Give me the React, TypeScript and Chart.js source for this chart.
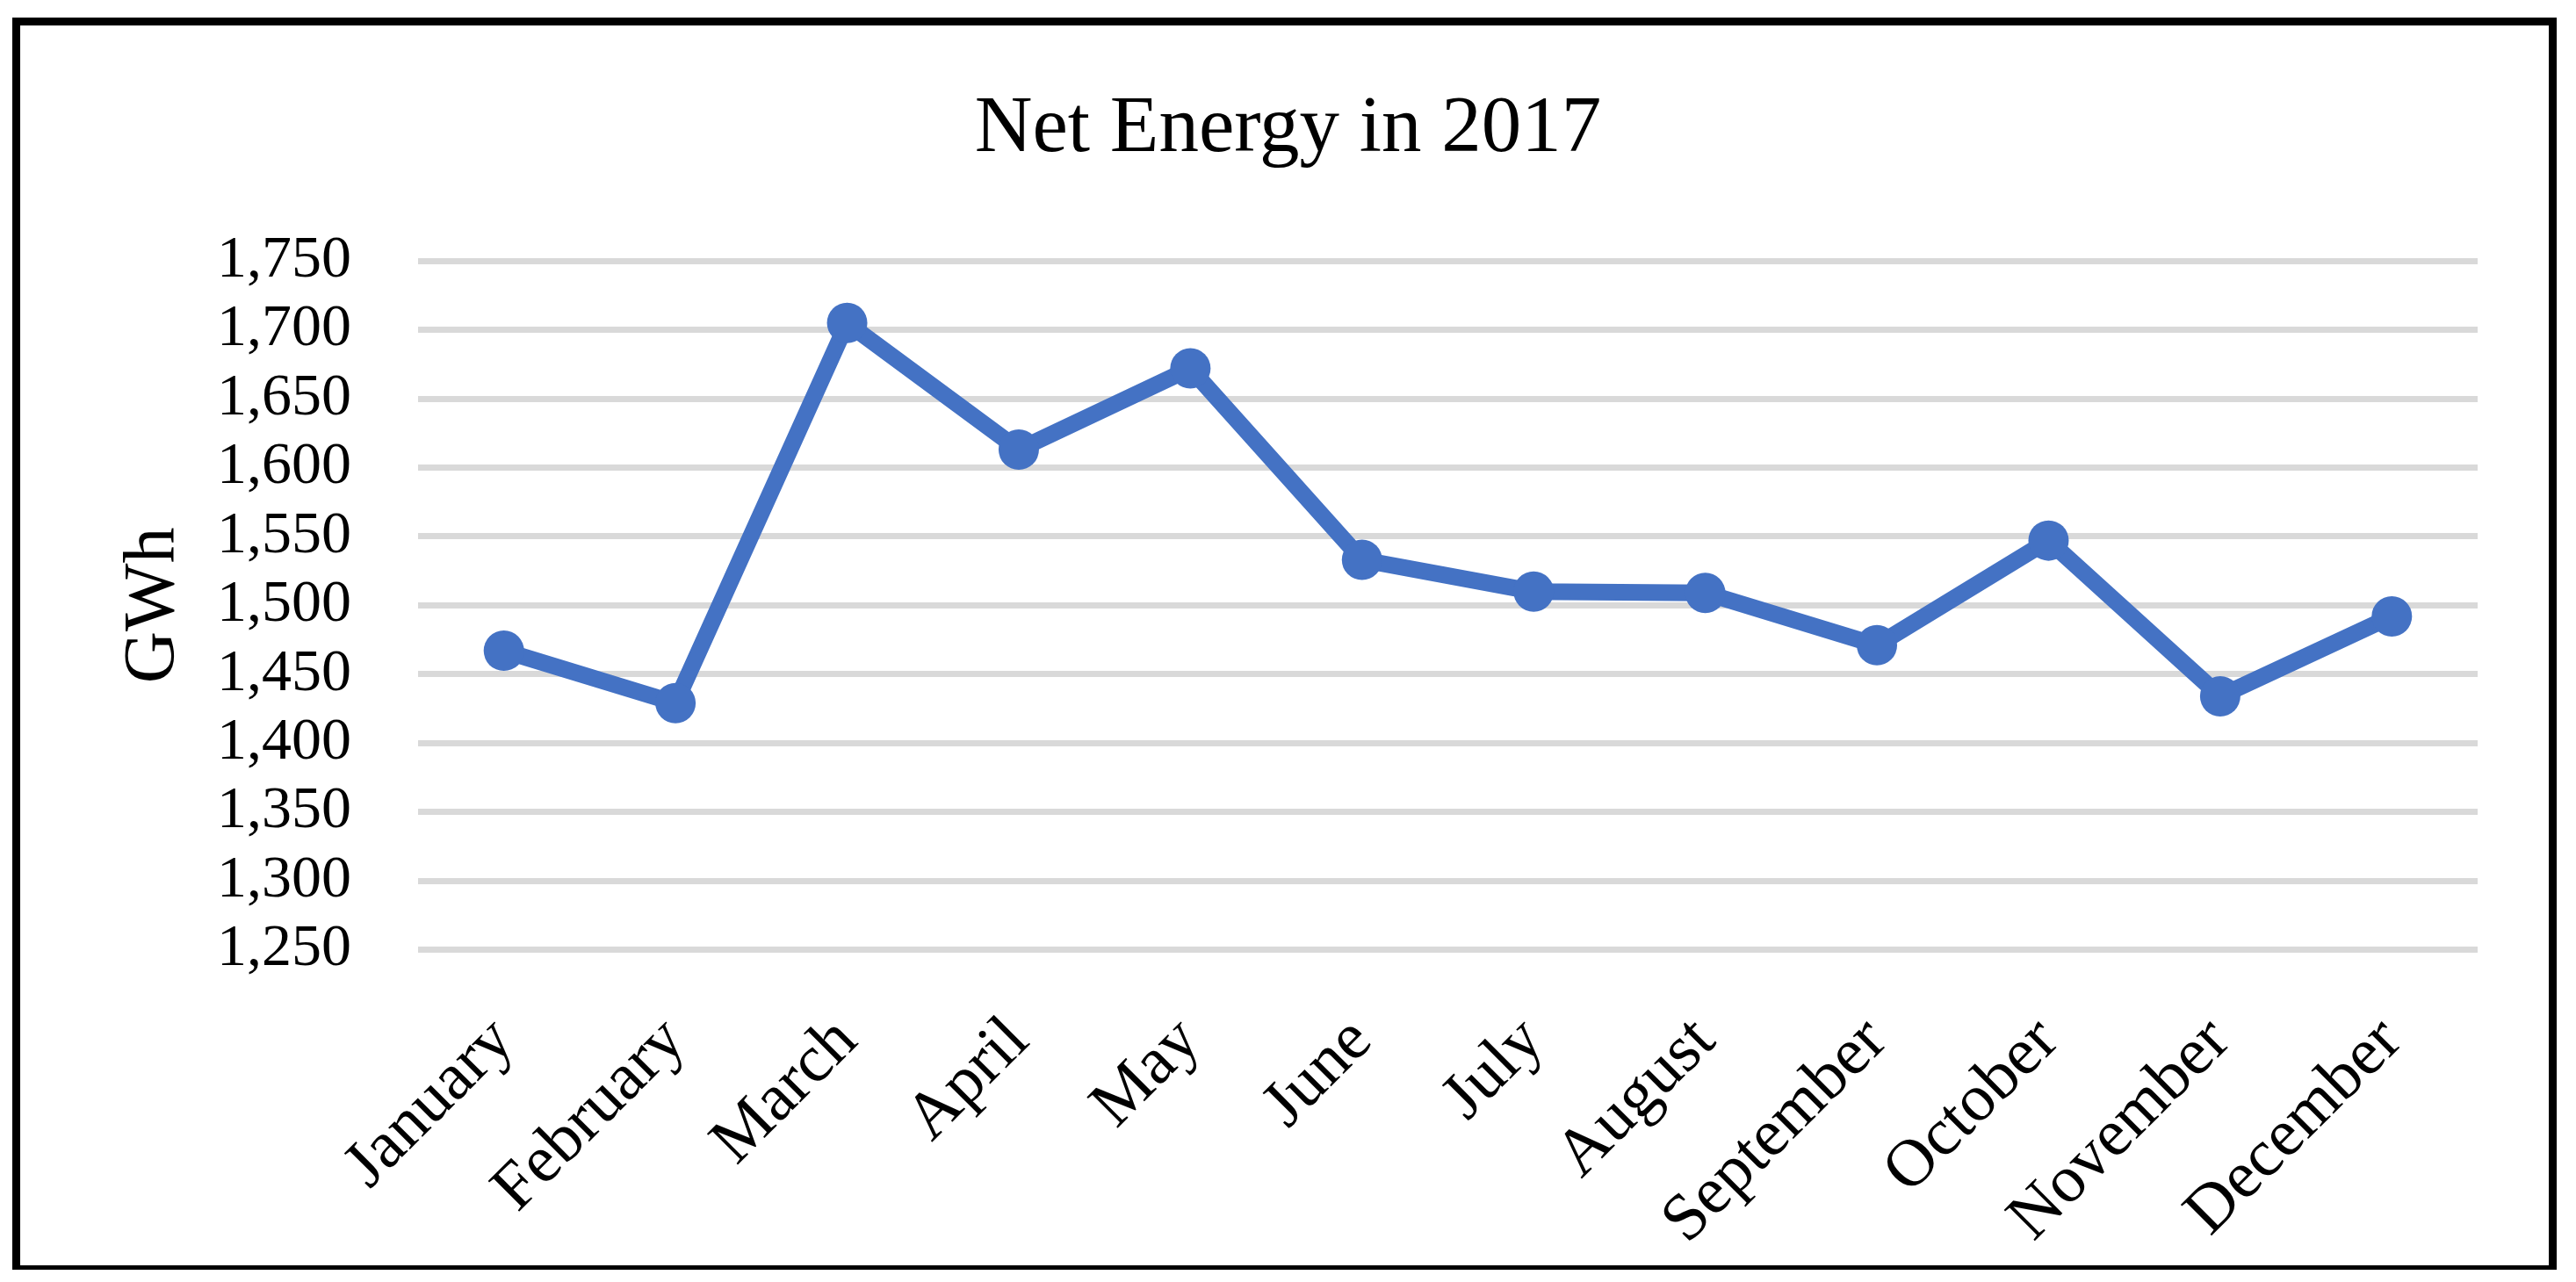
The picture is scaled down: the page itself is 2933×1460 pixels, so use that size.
import React, { useEffect, useRef } from "react";
import { Chart, registerables } from "chart.js";

Chart.register(...registerables);

const months = [
  "January",
  "February",
  "March",
  "April",
  "May",
  "June",
  "July",
  "August",
  "September",
  "October",
  "November",
  "December",
];
const netEnergyGWh = [1467, 1429, 1705, 1613, 1672, 1533, 1510, 1509, 1471, 1547, 1434, 1492];
const yAxisMin = 1250;
const yAxisMax = 1750;
const yAxisStep = 50;
const chartTitle = "Net Energy in 2017";
const yAxisTitle = "GWh";

const FONT = "'Liberation Serif', 'Times New Roman', serif";
const BLUE = "#4472C4";

export default function App() {
  const ref = useRef<HTMLCanvasElement>(null);

  useEffect(() => {
    if (!ref.current) return;
    const chart = new Chart(ref.current, {
      type: "line",
      data: {
        labels: months,
        datasets: [
          {
            data: netEnergyGWh,
            borderColor: BLUE,
            backgroundColor: BLUE,
            borderWidth: 19,
            pointRadius: 23,
            pointHoverRadius: 23,
            pointBackgroundColor: BLUE,
            pointBorderColor: BLUE,
            pointBorderWidth: 0,
            tension: 0,
            fill: false,
          },
        ],
      },
      options: {
        responsive: false,
        animation: false,
        devicePixelRatio: 1,
        layout: { padding: { left: 112, right: 112, top: 0, bottom: 0 } },
        plugins: {
          legend: { display: false },
          tooltip: { enabled: false },
          title: {
            display: true,
            text: chartTitle,
            color: "#000",
            font: { family: FONT, size: 91, weight: "normal" },
            padding: { top: 93, bottom: 95 },
          },
        },
        scales: {
          x: {
            offset: true,
            grid: { display: false, offset: true },
            border: { display: false },
            ticks: {
              color: "#000",
              font: { family: FONT, size: 76 },
              minRotation: 45,
              maxRotation: 45,
              autoSkip: false,
              padding: 52,
            },
            afterFit: (s: any) => {
              s.height = 378.5;
            },
          },
          y: {
            min: yAxisMin,
            max: yAxisMax,
            ticks: {
              stepSize: yAxisStep,
              autoSkip: false,
              color: "#000",
              font: { family: FONT, size: 68 },
              padding: 76,
              callback: (v: any) => Number(v).toLocaleString("en-US"),
            },
            grid: { color: "#d9d9d9", lineWidth: 7, drawTicks: false },
            border: { display: false },
            title: {
              display: true,
              text: yAxisTitle,
              color: "#000",
              font: { family: FONT, size: 82, weight: "normal" },
              padding: { top: 14, bottom: 0 },
            },
            afterFit: (s: any) => {
              s.width = 364;
            },
          },
        },
      },
    } as any);
    return () => chart.destroy();
  }, []);

  return (
    <div
      style={{
        position: "absolute",
        left: 0,
        top: 0,
        width: 2933,
        height: 1460,
        background: "#fff",
        overflow: "hidden",
      }}
    >
      <canvas
        ref={ref}
        width={2933}
        height={1460}
        style={{ position: "absolute", left: 0, top: 0, width: 2933, height: 1460 }}
      />
      <div
        style={{
          position: "absolute",
          left: 14,
          top: 20,
          width: 2897,
          height: 1426,
          boxSizing: "border-box",
          border: "9px solid #000",
          borderBottomWidth: 5,
          pointerEvents: "none",
        }}
      />
    </div>
  );
}
